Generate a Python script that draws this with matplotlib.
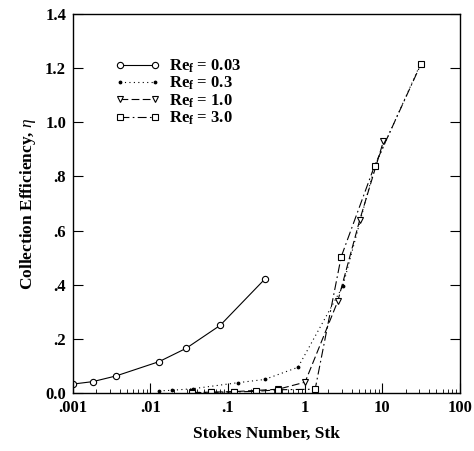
import matplotlib
matplotlib.use("Agg")
import matplotlib.pyplot as plt
from matplotlib.ticker import FixedLocator, LogLocator, NullFormatter

# Data
stk_003 = [0.001, 0.0018, 0.0036, 0.013, 0.029, 0.08, 0.3]
eta_003 = [0.033, 0.042, 0.063, 0.116, 0.165, 0.25, 0.42]

stk_03 = [0.013, 0.019, 0.036, 0.135, 0.3, 0.81, 3.08, 8.0, 31.0]
eta_03 = [0.008, 0.01, 0.016, 0.038, 0.05, 0.095, 0.395, 0.84, 1.215]

stk_10 = [0.035, 0.06, 0.12, 0.45, 1.0, 2.64, 5.1, 10.3]
eta_10 = [0.002, 0.003, 0.005, 0.014, 0.04, 0.338, 0.64, 0.93]

stk_30 = [0.035, 0.06, 0.12, 0.23, 0.45, 1.35, 2.93, 7.9, 31.5]
eta_30 = [0.001, 0.002, 0.004, 0.006, 0.012, 0.014, 0.503, 0.839, 1.215]

x_ticks = [0.001, 0.01, 0.1, 1, 10, 100]
x_labels = [".001", ".01", ".1", "1", "10", "100"]
y_ticks = [0.0, 0.2, 0.4, 0.6, 0.8, 1.0, 1.2, 1.4]
y_labels = ["0.0", ".2", ".4", ".6", ".8", "1.0", "1.2", "1.4"]
legend_labels = [r"$\mathbf{Re_f}$ = 0.03", r"$\mathbf{Re_f}$ = 0.3",
                 r"$\mathbf{Re_f}$ = 1.0", r"$\mathbf{Re_f}$ = 3.0"]

plt.rcParams['font.family'] = ['Liberation Serif', 'DejaVu Serif']
plt.rcParams['mathtext.fontset'] = 'custom'
plt.rcParams['mathtext.rm'] = 'Liberation Serif'
plt.rcParams['mathtext.it'] = 'Liberation Serif:italic'
plt.rcParams['mathtext.bf'] = 'Liberation Serif:bold'

fig = plt.figure(figsize=(4.74, 4.51), dpi=100)
ax = fig.add_axes([0.154, 0.1286, 0.816, 0.8404])

lw = 0.8
ms = 4.5
ax.plot(stk_003, eta_003, '-', color='black', lw=lw, marker='o', ms=ms,
        mfc='white', mec='black', mew=0.8, label=legend_labels[0])
ax.plot(stk_03, eta_03, linestyle=(0, (1, 3)), color='black', lw=lw, marker='.',
        ms=3.5, mfc='black', mec='black', label=legend_labels[1])
ax.plot(stk_10, eta_10, linestyle=(0, (7, 3)), color='black', lw=lw, marker='v', ms=ms,
        mfc='white', mec='black', mew=0.8, label=legend_labels[2])
ax.plot(stk_30, eta_30, linestyle=(0, (8, 3, 1.5, 3)), color='black', lw=lw, marker='s',
        ms=ms - 0.5, mfc='white', mec='black', mew=0.8, label=legend_labels[3])

ax.set_xscale('log')
ax.set_xlim(0.001, 100)
ax.set_ylim(0, 1.4)

ax.xaxis.set_major_locator(FixedLocator(x_ticks))
ax.set_xticklabels(x_labels)
ax.xaxis.set_minor_locator(LogLocator(base=10, subs=range(2, 10)))
ax.xaxis.set_minor_formatter(NullFormatter())
ax.set_yticks(y_ticks)
ax.set_yticklabels(y_labels)

ax.tick_params(axis='both', which='major', direction='in', length=7, width=0.8,
               labelsize=12, top=False, right=True, pad=5)
ax.tick_params(axis='x', which='minor', direction='in', length=3, width=0.6, top=False)
for lab in ax.get_xticklabels() + ax.get_yticklabels():
    lab.set_fontweight('bold')

for sp in ax.spines.values():
    sp.set_linewidth(1.0)

ax.set_xlabel("Stokes Number, Stk", fontsize=12.5, fontweight='bold', labelpad=7)
ax.set_ylabel(r"Collection Efficiency, $\mathit{\eta}$", fontsize=12.5,
              fontweight='bold', labelpad=5)

leg = ax.legend(loc='upper left', bbox_to_anchor=(0.07, 0.925), frameon=False,
                numpoints=2, handlelength=2.7, handletextpad=0.55,
                labelspacing=0.0, prop={'size': 12, 'weight': 'bold'})

fig.savefig("out.png", dpi=100)
